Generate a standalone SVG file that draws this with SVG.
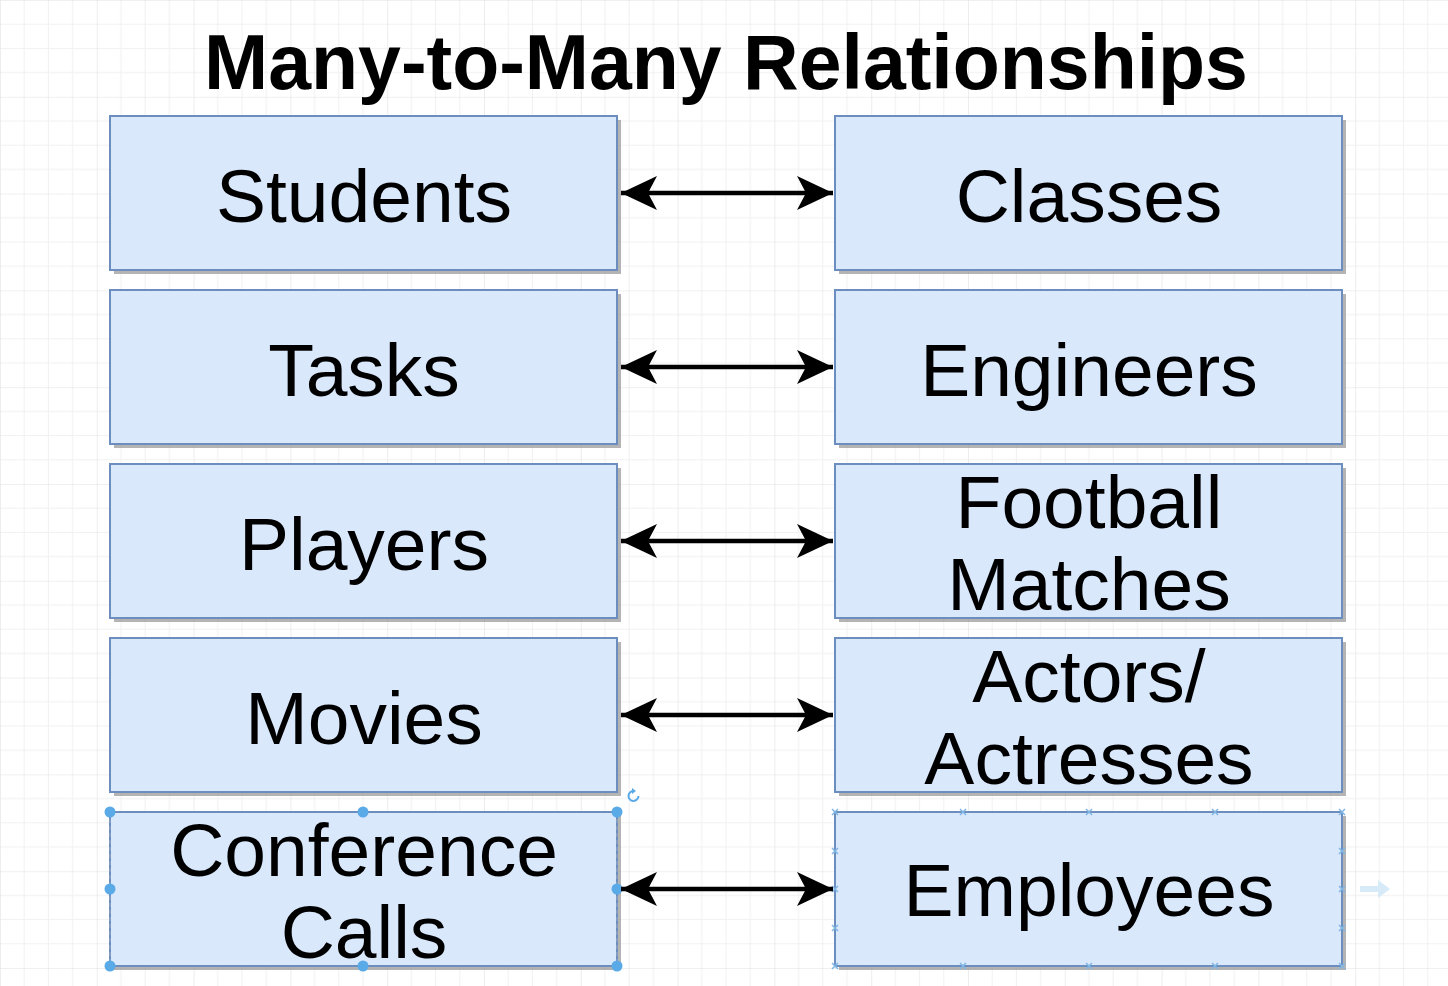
<svg xmlns="http://www.w3.org/2000/svg" width="1448" height="986" viewBox="0 0 1448 986">
<defs>
<pattern id="grid" patternUnits="userSpaceOnUse" width="96.8" height="96.8">
<rect width="96.8" height="96.8" fill="#ffffff"/>
<path d="M24.2 0V96.8M48.4 0V96.8M72.6 0V96.8M0 24.2H96.8M0 48.4H96.8M0 72.6H96.8" stroke="#f1f1f1" stroke-width="1" fill="none"/>
<path d="M0 0V96.8M0 0H96.8" stroke="#e2e2e2" stroke-width="1.2" fill="none"/>
</pattern>
<marker id="ah" markerUnits="userSpaceOnUse" viewBox="-38 -18 40 36" refX="0" refY="0" markerWidth="40" markerHeight="36" orient="auto-start-reverse">
<path d="M0 0L-36 -17L-27 0L-36 17Z" fill="#000"/>
</marker>
<style>
.box{fill:#dae8fc;stroke:#6c8ebf;stroke-width:2}
.sh{fill:#8c8c8c;opacity:0.65}
.lbl{font-family:"Liberation Sans",Arial,sans-serif;font-size:75px;fill:#000;text-anchor:middle}
.title{font-family:"Liberation Sans",Arial,sans-serif;font-size:77px;font-weight:bold;fill:#000;text-anchor:middle}
.con{stroke:#000;stroke-width:4.5;fill:none}
.hd{fill:#5aaae8}
.cp{stroke:#7fb6e3;stroke-width:1.5;fill:none}
</style>
</defs>
<rect width="1448" height="986" fill="url(#grid)"/>
<text class="title" x="726" y="89">Many-to-Many Relationships</text>

<g id="students"><rect class="sh" x="114" y="120" width="507" height="154"/><rect class="box" x="110" y="116" width="507" height="154"/><text class="lbl" x="364" y="222">Students</text></g>
<g id="classes"><rect class="sh" x="839" y="120" width="507" height="154"/><rect class="box" x="835" y="116" width="507" height="154"/><text class="lbl" x="1089" y="222">Classes</text></g>
<g id="tasks"><rect class="sh" x="114" y="294" width="507" height="154"/><rect class="box" x="110" y="290" width="507" height="154"/><text class="lbl" x="364" y="396">Tasks</text></g>
<g id="engineers"><rect class="sh" x="839" y="294" width="507" height="154"/><rect class="box" x="835" y="290" width="507" height="154"/><text class="lbl" x="1089" y="396">Engineers</text></g>
<g id="players"><rect class="sh" x="114" y="468" width="507" height="154"/><rect class="box" x="110" y="464" width="507" height="154"/><text class="lbl" x="364" y="570">Players</text></g>
<g id="football"><rect class="sh" x="839" y="468" width="507" height="154"/><rect class="box" x="835" y="464" width="507" height="154"/><text class="lbl" x="1089" y="528">Football</text><text class="lbl" x="1089" y="610">Matches</text></g>
<g id="movies"><rect class="sh" x="114" y="642" width="507" height="154"/><rect class="box" x="110" y="638" width="507" height="154"/><text class="lbl" x="364" y="744">Movies</text></g>
<g id="actors"><rect class="sh" x="839" y="642" width="507" height="154"/><rect class="box" x="835" y="638" width="507" height="154"/><text class="lbl" x="1089" y="702">Actors/</text><text class="lbl" x="1089" y="784">Actresses</text></g>
<g id="conference"><rect class="sh" x="114" y="816" width="507" height="154"/><rect class="box" x="110" y="812" width="507" height="154"/><path d="M110 812V966M617 812V966" stroke="#8aa0c0" stroke-width="1.5" stroke-dasharray="4 3" fill="none"/><text class="lbl" x="364" y="876">Conference</text><text class="lbl" x="364" y="958">Calls</text>
<g id="selection"><circle class="hd" cx="110" cy="812" r="5.5"/><circle class="hd" cx="363" cy="812" r="5.5"/><circle class="hd" cx="617" cy="812" r="5.5"/><circle class="hd" cx="110" cy="889" r="5.5"/><circle class="hd" cx="617" cy="889" r="5.5"/><circle class="hd" cx="110" cy="966" r="5.5"/><circle class="hd" cx="363" cy="966" r="5.5"/><circle class="hd" cx="617" cy="966" r="5.5"/>
<path d="M638.5 796A5 5 0 1 1 634 791" stroke="#5aaae8" stroke-width="2" fill="none"/><path d="M632 788L636 791L632 794Z" fill="#5aaae8"/></g></g>
<g id="employees"><rect class="sh" x="839" y="816" width="507" height="154"/><rect class="box" x="835" y="812" width="507" height="154"/><text class="lbl" x="1089" y="916">Employees</text>
<path class="cp" d="M832 809l6 6M838 809l-6 6M960 809l6 6M966 809l-6 6M1086 809l6 6M1092 809l-6 6M1212 809l6 6M1218 809l-6 6M1339 809l6 6M1345 809l-6 6M832 963l6 6M838 963l-6 6M960 963l6 6M966 963l-6 6M1086 963l6 6M1092 963l-6 6M1212 963l6 6M1218 963l-6 6M1339 963l6 6M1345 963l-6 6M832 848l6 6M838 848l-6 6M832 886l6 6M838 886l-6 6M832 925l6 6M838 925l-6 6M1339 848l6 6M1345 848l-6 6M1339 886l6 6M1345 886l-6 6M1339 925l6 6M1345 925l-6 6"/>
<path d="M1360 886h18v-6l12 9l-12 9v-6h-18Z" fill="#d6eaf8"/></g>

<g id="connectors">
<line class="con" x1="621" y1="193" x2="833" y2="193" marker-start="url(#ah)" marker-end="url(#ah)"/>
<line class="con" x1="621" y1="367" x2="833" y2="367" marker-start="url(#ah)" marker-end="url(#ah)"/>
<line class="con" x1="621" y1="541" x2="833" y2="541" marker-start="url(#ah)" marker-end="url(#ah)"/>
<line class="con" x1="621" y1="715" x2="833" y2="715" marker-start="url(#ah)" marker-end="url(#ah)"/>
<line class="con" x1="621" y1="889" x2="833" y2="889" marker-start="url(#ah)" marker-end="url(#ah)"/>
</g>
</svg>
